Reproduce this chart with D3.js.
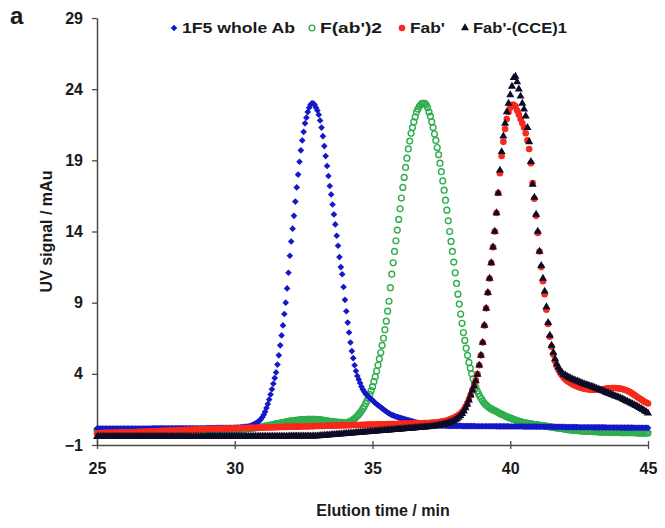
<!DOCTYPE html>
<html>
<head>
<meta charset="utf-8">
<script src="https://cdn.jsdelivr.net/npm/d3@7"></script>
<style>
  body { margin: 0; background: #fff; }
  text { font-family: "Liberation Sans", Arial, sans-serif; font-weight: bold; fill: #1a1a1a; }
</style>
</head>
<body>
<div id="chart"></div>
<script>
// chromatogram traces (UV signal in mAu)
const legendLabels = ["1F5 whole Ab", "F(ab')2", "Fab'", "Fab'-(CCE)1"];
const xTicks = [25, 30, 35, 40, 45];
const yTicks = [-1, 4, 9, 14, 19, 24, 29];

// 1F5 whole Ab, sampled every 0.05 min from 25 min (one row per minute)
const blueStart = 25, blueStep = 0.05;
const blueValues = [
  0.15,0.15,0.15,0.15,0.15,0.15,0.15,0.15,0.15,0.15,0.15,0.15,0.15,0.15,0.15,0.15,0.15,0.15,0.15,0.15,
  0.16,0.16,0.16,0.16,0.16,0.16,0.16,0.16,0.16,0.16,0.16,0.16,0.16,0.16,0.16,0.16,0.16,0.16,0.16,0.16,
  0.17,0.17,0.17,0.17,0.17,0.17,0.17,0.17,0.17,0.17,0.17,0.17,0.17,0.17,0.17,0.17,0.17,0.17,0.17,0.17,
  0.18,0.18,0.18,0.18,0.18,0.18,0.18,0.18,0.18,0.18,0.18,0.18,0.18,0.18,0.18,0.18,0.18,0.18,0.18,0.18,
  0.19,0.19,0.19,0.19,0.19,0.19,0.19,0.2,0.2,0.2,0.2,0.2,0.2,0.2,0.21,0.21,0.21,0.21,0.21,0.21,
  0.22,0.22,0.23,0.23,0.24,0.25,0.26,0.27,0.28,0.29,0.3,0.33,0.36,0.4,0.45,0.5,0.56,0.63,0.71,0.82,
  0.95,1.12,1.33,1.6,1.88,2.2,2.55,2.92,3.3,3.7,4.1,4.65,5.3,6.0,6.7,7.4,8.2,9.0,10.0,11.1,
  12.3,13.3,14.2,15.1,16.1,17.1,18.0,18.9,19.7,20.4,21.0,21.6,22.0,22.4,22.7,22.9,23.0,23.0,22.9,22.7,
  22.5,22.2,21.8,21.3,20.7,20.0,19.3,18.6,17.9,17.2,16.6,15.9,15.2,14.5,13.7,13.0,12.2,11.5,11.0,10.1,
  9.2,8.4,7.6,6.9,6.2,5.6,5.1,4.6,4.2,3.85,3.6,3.35,3.1,2.9,2.75,2.6,2.5,2.4,2.3,2.22,
  2.15,2.05,1.95,1.87,1.8,1.72,1.65,1.57,1.5,1.42,1.35,1.28,1.22,1.16,1.12,1.08,1.04,1.0,0.97,0.94,
  0.91,0.88,0.85,0.82,0.79,0.77,0.74,0.71,0.68,0.66,0.63,0.6,0.58,0.55,0.53,0.51,0.49,0.47,0.46,0.45,
  0.43,0.42,0.41,0.4,0.39,0.38,0.37,0.37,0.36,0.36,0.35,0.35,0.35,0.35,0.34,0.34,0.34,0.34,0.34,0.34,
  0.34,0.34,0.34,0.34,0.34,0.33,0.33,0.33,0.33,0.33,0.33,0.33,0.33,0.33,0.33,0.32,0.32,0.32,0.32,0.32,
  0.32,0.32,0.32,0.32,0.32,0.32,0.32,0.32,0.32,0.32,0.31,0.31,0.31,0.31,0.31,0.31,0.31,0.31,0.31,0.31,
  0.3,0.3,0.3,0.3,0.3,0.3,0.3,0.3,0.3,0.3,0.29,0.29,0.29,0.29,0.29,0.29,0.29,0.29,0.29,0.29,
  0.28,0.28,0.28,0.28,0.28,0.28,0.28,0.28,0.28,0.28,0.27,0.27,0.27,0.27,0.27,0.27,0.27,0.27,0.27,0.27,
  0.26,0.26,0.26,0.26,0.26,0.26,0.26,0.26,0.26,0.26,0.25,0.25,0.25,0.25,0.25,0.25,0.25,0.25,0.25,0.25,
  0.24,0.24,0.24,0.24,0.24,0.24,0.24,0.24,0.24,0.24,0.23,0.23,0.23,0.23,0.23,0.23,0.23,0.23,0.23,0.23,
  0.22,0.22,0.22,0.22,0.22,0.22,0.22,0.22,0.22,0.22,0.21,0.21,0.21,0.21,0.21,0.21,0.21,0.21,0.21,0.21,
  0.2
];

// F(ab')2, sampled every 0.05 min (one row per minute)
const greenStart = 25, greenStep = 0.05;
const greenValues = [
  0.05,0.05,0.05,0.05,0.05,0.05,0.05,0.05,0.05,0.05,0.05,0.05,0.05,0.05,0.05,0.05,0.05,0.05,0.05,0.05,
  0.05,0.05,0.05,0.05,0.05,0.05,0.05,0.05,0.05,0.05,0.05,0.05,0.05,0.05,0.05,0.05,0.05,0.05,0.05,0.05,
  0.06,0.06,0.06,0.06,0.06,0.06,0.06,0.06,0.06,0.06,0.06,0.06,0.06,0.06,0.06,0.06,0.06,0.06,0.06,0.06,
  0.07,0.07,0.07,0.07,0.07,0.07,0.07,0.07,0.07,0.07,0.07,0.07,0.07,0.07,0.07,0.07,0.07,0.07,0.07,0.07,
  0.08,0.08,0.08,0.08,0.08,0.08,0.08,0.08,0.08,0.08,0.09,0.09,0.09,0.09,0.09,0.09,0.09,0.09,0.09,0.09,
  0.1,0.1,0.11,0.11,0.12,0.12,0.13,0.13,0.14,0.15,0.16,0.17,0.18,0.19,0.2,0.21,0.22,0.23,0.24,0.26,
  0.28,0.3,0.32,0.34,0.36,0.38,0.4,0.42,0.44,0.46,0.48,0.5,0.52,0.54,0.56,0.58,0.6,0.62,0.64,0.66,
  0.68,0.69,0.7,0.72,0.73,0.74,0.75,0.76,0.77,0.78,0.79,0.79,0.8,0.8,0.81,0.81,0.81,0.81,0.81,0.8,
  0.79,0.78,0.77,0.76,0.74,0.73,0.71,0.7,0.68,0.67,0.65,0.64,0.63,0.62,0.61,0.6,0.6,0.59,0.59,0.58,
  0.58,0.58,0.6,0.62,0.66,0.71,0.78,0.86,0.95,1.05,1.15,1.27,1.4,1.55,1.7,1.9,2.1,2.32,2.55,2.82,
  3.1,3.45,3.8,4.2,4.6,5.05,5.5,6.0,6.5,7.1,7.7,8.4,9.1,10.05,11.0,11.8,12.6,13.35,14.1,14.85,
  15.6,16.35,17.1,17.8,18.5,19.15,19.8,20.35,20.9,21.3,21.7,22.05,22.4,22.6,22.8,22.9,23.0,23.0,23.0,22.9,
  22.7,22.4,22.1,21.7,21.3,20.85,20.4,19.9,19.4,18.8,18.2,17.55,16.9,16.2,15.5,14.75,14.0,13.3,12.6,11.85,
  11.1,10.35,9.6,8.9,8.2,7.55,6.9,6.35,5.8,5.3,4.8,4.4,4.0,3.65,3.3,3.05,2.8,2.6,2.4,2.25,
  2.1,1.97,1.85,1.76,1.68,1.61,1.55,1.5,1.45,1.4,1.36,1.3,1.25,1.2,1.15,1.1,1.05,1.01,0.97,0.93,
  0.9,0.86,0.82,0.78,0.75,0.71,0.68,0.65,0.63,0.6,0.58,0.56,0.54,0.52,0.5,0.48,0.47,0.45,0.44,0.42,
  0.41,0.4,0.38,0.37,0.35,0.34,0.32,0.31,0.29,0.28,0.26,0.25,0.23,0.22,0.2,0.19,0.17,0.16,0.14,0.13,
  0.11,0.1,0.08,0.07,0.06,0.05,0.04,0.03,0.02,0.01,0,-0.01,-0.02,-0.02,-0.03,-0.03,-0.04,-0.04,-0.05,-0.05,
  -0.06,-0.06,-0.07,-0.07,-0.08,-0.08,-0.09,-0.09,-0.1,-0.1,-0.1,-0.1,-0.11,-0.11,-0.11,-0.11,-0.12,-0.12,-0.12,-0.12,
  -0.13,-0.13,-0.13,-0.13,-0.13,-0.13,-0.14,-0.14,-0.14,-0.14,-0.14,-0.14,-0.15,-0.15,-0.15,-0.15,-0.15,-0.15,-0.15,-0.15,
  -0.15
];

// Fab', sampled every 0.0625 min (one row per minute)
const redStart = 25, redStep = 0.0625;
const redValues = [
  -0.17,-0.17,-0.16,-0.16,-0.15,-0.15,-0.15,-0.14,-0.14,-0.14,-0.13,-0.13,-0.13,-0.12,-0.12,-0.12,
  -0.11,-0.11,-0.11,-0.1,-0.1,-0.1,-0.09,-0.09,-0.08,-0.08,-0.07,-0.07,-0.06,-0.06,-0.05,-0.05,
  -0.04,-0.04,-0.03,-0.03,-0.02,-0.02,-0.01,-0.01,0,0,0.01,0.01,0.02,0.02,0.03,0.03,
  0.04,0.04,0.05,0.05,0.06,0.06,0.07,0.07,0.08,0.08,0.09,0.09,0.1,0.1,0.11,0.11,
  0.12,0.12,0.12,0.13,0.13,0.13,0.14,0.14,0.14,0.15,0.15,0.15,0.16,0.16,0.16,0.17,
  0.17,0.17,0.18,0.18,0.18,0.19,0.19,0.19,0.2,0.2,0.2,0.21,0.21,0.21,0.22,0.22,
  0.22,0.23,0.23,0.23,0.24,0.24,0.24,0.25,0.25,0.25,0.26,0.26,0.26,0.27,0.27,0.27,
  0.28,0.28,0.28,0.29,0.29,0.29,0.3,0.3,0.3,0.31,0.31,0.31,0.32,0.32,0.32,0.33,
  0.33,0.33,0.34,0.34,0.34,0.35,0.35,0.35,0.36,0.36,0.36,0.37,0.37,0.37,0.38,0.38,
  0.38,0.39,0.39,0.39,0.4,0.4,0.4,0.41,0.41,0.41,0.42,0.42,0.42,0.43,0.43,0.43,
  0.44,0.44,0.44,0.45,0.45,0.45,0.46,0.46,0.46,0.47,0.47,0.47,0.48,0.48,0.48,0.49,
  0.49,0.49,0.5,0.5,0.5,0.51,0.51,0.51,0.52,0.52,0.52,0.53,0.53,0.53,0.54,0.54,
  0.55,0.55,0.56,0.57,0.58,0.59,0.6,0.62,0.64,0.66,0.69,0.72,0.76,0.8,0.85,0.9,
  0.96,1.03,1.11,1.2,1.32,1.48,1.68,1.92,2.2,2.52,2.86,3.18,3.54,3.98,4.6,5.3,
  6.2,7.4,8.6,9.7,10.7,11.8,12.9,14.0,15.3,16.7,18.1,19.3,20.3,21.2,21.9,22.4,
  22.7,22.9,22.9,22.8,22.5,22.2,21.9,21.6,21.3,20.9,20.4,19.8,18.8,17.4,16.3,15.1,
  13.9,12.6,11.5,10.5,9.6,8.5,7.5,6.6,5.9,5.35,4.9,4.55,4.3,4.08,3.9,3.75,
  3.62,3.52,3.43,3.35,3.28,3.22,3.16,3.11,3.06,3.02,2.98,2.95,2.93,2.91,2.9,2.89,
  2.88,2.88,2.88,2.89,2.9,2.91,2.92,2.94,2.96,2.98,2.99,3.0,3.0,3.0,2.99,2.98,
  2.96,2.93,2.9,2.86,2.81,2.75,2.68,2.6,2.52,2.44,2.36,2.28,2.2,2.12,2.04,1.98,
  1.92
];

// Fab'-(CCE)1, sampled every 0.0625 min (one row per minute)
const blackStart = 25, blackStep = 0.0625;
const blackValues = [
  -0.42,-0.42,-0.42,-0.42,-0.42,-0.42,-0.42,-0.42,-0.42,-0.42,-0.42,-0.42,-0.42,-0.42,-0.42,-0.42,
  -0.42,-0.42,-0.42,-0.42,-0.42,-0.42,-0.42,-0.42,-0.42,-0.42,-0.42,-0.42,-0.42,-0.42,-0.42,-0.42,
  -0.41,-0.41,-0.41,-0.41,-0.41,-0.41,-0.41,-0.41,-0.41,-0.41,-0.41,-0.41,-0.41,-0.41,-0.41,-0.41,
  -0.41,-0.41,-0.41,-0.41,-0.41,-0.41,-0.41,-0.41,-0.41,-0.41,-0.41,-0.41,-0.41,-0.41,-0.41,-0.41,
  -0.4,-0.4,-0.4,-0.4,-0.4,-0.4,-0.4,-0.4,-0.4,-0.4,-0.4,-0.4,-0.4,-0.4,-0.4,-0.4,
  -0.4,-0.4,-0.4,-0.4,-0.4,-0.4,-0.4,-0.4,-0.4,-0.4,-0.4,-0.4,-0.4,-0.4,-0.4,-0.4,
  -0.39,-0.39,-0.39,-0.39,-0.39,-0.39,-0.39,-0.39,-0.39,-0.39,-0.39,-0.39,-0.39,-0.39,-0.39,-0.39,
  -0.38,-0.38,-0.38,-0.38,-0.38,-0.38,-0.38,-0.38,-0.38,-0.38,-0.38,-0.38,-0.38,-0.38,-0.38,-0.38,
  -0.37,-0.36,-0.35,-0.34,-0.33,-0.32,-0.31,-0.3,-0.29,-0.28,-0.27,-0.26,-0.25,-0.24,-0.23,-0.22,
  -0.21,-0.2,-0.19,-0.18,-0.17,-0.16,-0.15,-0.14,-0.13,-0.12,-0.11,-0.1,-0.09,-0.08,-0.07,-0.06,
  -0.05,-0.04,-0.03,-0.02,-0.01,0,0.01,0.02,0.03,0.04,0.05,0.06,0.07,0.08,0.09,0.1,
  0.11,0.12,0.13,0.14,0.15,0.16,0.17,0.18,0.19,0.2,0.21,0.22,0.23,0.24,0.25,0.26,
  0.27,0.28,0.3,0.31,0.33,0.35,0.37,0.39,0.41,0.44,0.47,0.5,0.54,0.58,0.63,0.69,
  0.76,0.84,0.94,1.06,1.2,1.38,1.6,1.85,2.15,2.5,2.85,3.15,3.5,3.95,4.6,5.3,
  6.2,7.4,8.6,9.7,10.7,11.8,12.9,14.0,15.3,16.7,18.3,19.6,20.7,21.6,22.4,23.0,
  23.6,24.2,24.8,24.9,24.5,24.0,23.5,23.0,22.6,22.1,21.3,20.3,18.9,17.3,16.4,15.2,
  14.0,12.6,11.6,10.7,9.8,8.7,7.6,6.7,6.0,5.5,5.05,4.7,4.45,4.25,4.1,3.95,
  3.9,3.82,3.75,3.69,3.63,3.58,3.53,3.48,3.43,3.38,3.33,3.28,3.24,3.2,3.16,3.12,
  3.08,3.03,2.98,2.93,2.88,2.83,2.78,2.73,2.68,2.63,2.58,2.53,2.48,2.43,2.39,2.35,
  2.3,2.24,2.18,2.12,2.06,2.0,1.94,1.88,1.82,1.76,1.7,1.63,1.56,1.48,1.4,1.32,
  1.24
];

const width = 665;
const height = 528;
const margin = {top: 18, right: 17, bottom: 83, left: 97};

const svg = d3.select("#chart")
  .append("svg")
    .attr("width", width)
    .attr("height", height);

const x = d3.scaleLinear()
  .domain([25, 45])
  .range([margin.left, width - margin.right]);

const y = d3.scaleLinear()
  .domain([-1, 29])
  .range([height - margin.bottom, margin.top]);

// Y axis
const yAxis = svg.append("g")
  .attr("transform", `translate(${margin.left},0)`)
  .call(d3.axisLeft(y).tickValues(yTicks).tickSize(5).tickSizeOuter(0).tickPadding(9));

// X axis, ticks cross the line
const xAxis = svg.append("g")
  .attr("transform", `translate(0,${height - margin.bottom})`)
  .call(d3.axisBottom(x).tickValues(xTicks).tickSize(4).tickSizeOuter(0).tickPadding(14));
xAxis.selectAll(".tick line").attr("y1", -4);

[xAxis, yAxis].forEach(g => {
  g.select(".domain").attr("stroke", "#4a4a4a").attr("stroke-width", 1.5);
  g.selectAll(".tick line").attr("stroke", "#4a4a4a").attr("stroke-width", 1.3);
  g.selectAll(".tick text").style("font-size", "16px").attr("fill", "#1a1a1a");
});

// marker generators
const diamond = d3.symbol().type(d3.symbolSquare).size(22);
const triangle = d3.symbol().type(d3.symbolTriangle).size(28);

const series = [
  {label: legendLabels[0], start: blueStart, step: blueStep, values: blueValues, kind: "diamond", color: "#1418c8", textLen: 113},
  {label: legendLabels[1], start: greenStart, step: greenStep, values: greenValues, kind: "ring", color: "#2fae4e", textLen: 62},
  {label: legendLabels[2], start: redStart, step: redStep, values: redValues, kind: "dot", color: "#f8281a", textLen: 35},
  {label: legendLabels[3], start: blackStart, step: blackStep, values: blackValues, kind: "triangle", color: "#0c0c26", textLen: 94}
];

function drawMarker(sel, kind, color) {
  if (kind === "diamond") {
    sel.append("path").attr("d", diamond).attr("transform", "rotate(45)").attr("fill", color);
  } else if (kind === "ring") {
    sel.append("circle").attr("r", 2.9).attr("fill", "none").attr("stroke", color).attr("stroke-width", 1.4);
  } else if (kind === "dot") {
    sel.append("circle").attr("r", 3.3).attr("fill", color);
  } else {
    sel.append("path").attr("d", triangle).attr("fill", color);
  }
}

// the traces: F(ab')2 sits underneath, the Fab' traces on top
const drawOrder = [1, 0, 2, 3];
drawOrder.forEach(k => {
  const s = series[k];
  const pts = s.values.map((v, i) => ({t: s.start + i * s.step, v: v}));
  const g = svg.append("g").attr("class", "series");
  g.selectAll("g")
    .data(pts)
    .enter()
    .append("g")
      .attr("transform", d => `translate(${x(d.t)},${y(d.v)})`)
      .each(function() { drawMarker(d3.select(this), s.kind, s.color); });
});

// legend along the top
const legendX = [174, 312, 402, 465];
const legend = svg.append("g");
series.forEach((s, i) => {
  const item = legend.append("g").attr("transform", `translate(${legendX[i]},28)`);
  drawMarker(item, s.kind, s.color);
  item.append("text")
    .attr("x", 8)
    .attr("dy", "0.35em")
    .attr("textLength", s.textLen)
    .attr("lengthAdjust", "spacingAndGlyphs")
    .style("font-size", "15px")
    .text(s.label);
});

// axis titles
svg.append("text")
  .attr("x", 383)
  .attr("y", 516)
  .attr("text-anchor", "middle")
  .style("font-size", "16px")
  .text("Elution time / min");

svg.append("text")
  .attr("transform", `translate(52,${(margin.top + height - margin.bottom) / 2}) rotate(-90)`)
  .attr("text-anchor", "middle")
  .style("font-size", "16px")
  .text("UV signal / mAu");

// panel letter
svg.append("text")
  .attr("x", 10)
  .attr("y", 24)
  .style("font-size", "24px")
  .text("a");
</script>
</body>
</html>
